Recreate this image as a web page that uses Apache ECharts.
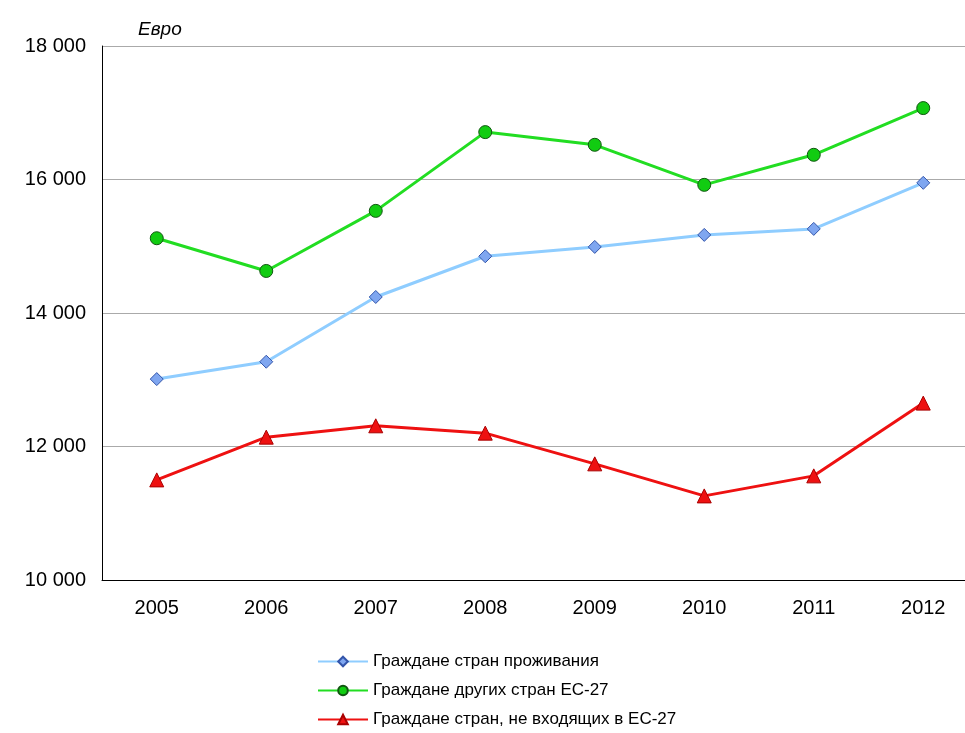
<!DOCTYPE html>
<html><head><meta charset="utf-8">
<script src="https://cdn.jsdelivr.net/npm/echarts@6/dist/echarts.min.js"></script>
<style>html,body{margin:0;padding:0;background:#fff;overflow:hidden}#c{width:978px;height:733px}</style>
</head><body><div id="c"></div>
<script>
var years = ['2005','2006','2007','2008','2009','2010','2011','2012'];
var residents = [13010, 13270, 14240, 14850, 14990, 15170, 15260, 15950];
var otherEU = [15120, 14630, 15530, 16710, 16520, 15920, 16370, 17070];
var nonEU = [11500, 12140, 12310, 12200, 11740, 11260, 11560, 12650];
var names = ['Граждане стран проживания', 'Граждане других стран ЕС-27', 'Граждане стран, не входящих в ЕС-27'];

var chart = echarts.init(document.getElementById('c'));
var font = 'Liberation Sans, Arial, sans-serif';
chart.setOption({
  animation: false,
  textStyle: { fontFamily: font },
  grid: { left: 102, right: 0, top: 46, bottom: 153 },
  title: { text: 'Евро', left: 133, top: 15, textStyle: { fontSize: 19, fontStyle: 'italic', fontWeight: 'normal', color: '#000', fontFamily: font } },
  legend: {
    orient: 'vertical', left: 312, top: 648, itemGap: 12, itemWidth: 50, itemHeight: 12,
    textStyle: { fontSize: 17, color: '#000', fontFamily: font },
    data: names
  },
  xAxis: {
    type: 'category', data: years, boundaryGap: true,
    axisLine: { lineStyle: { color: '#000' } },
    axisTick: { show: false },
    axisLabel: { fontSize: 20, color: '#000', margin: 18 }
  },
  yAxis: {
    type: 'value', min: 10000, max: 18000, interval: 2000,
    axisLine: { show: true, lineStyle: { color: '#000' } },
    axisTick: { show: false },
    splitLine: { lineStyle: { color: '#aaa' } },
    axisLabel: { fontSize: 20, color: '#000', margin: 16,
      formatter: function (v) { return String(v).replace(/\B(?=(\d{3})+(?!\d))/g, ' '); } }
  },
  series: [
    { name: names[0], type: 'line', data: residents, symbol: 'diamond', symbolSize: 13,
      lineStyle: { color: '#8fcdff', width: 3 }, itemStyle: { color: '#7fa6f0', borderColor: '#3355aa', borderWidth: 1 } },
    { name: names[1], type: 'line', data: otherEU, symbol: 'circle', symbolSize: 13,
      lineStyle: { color: '#22dd22', width: 3 }, itemStyle: { color: '#11cc11', borderColor: '#115511', borderWidth: 1 } },
    { name: names[2], type: 'line', data: nonEU, symbol: 'triangle', symbolSize: 14,
      lineStyle: { color: '#ee1111', width: 3 }, itemStyle: { color: '#ee1111', borderColor: '#aa0000', borderWidth: 1 } }
  ]
});
</script></body></html>
